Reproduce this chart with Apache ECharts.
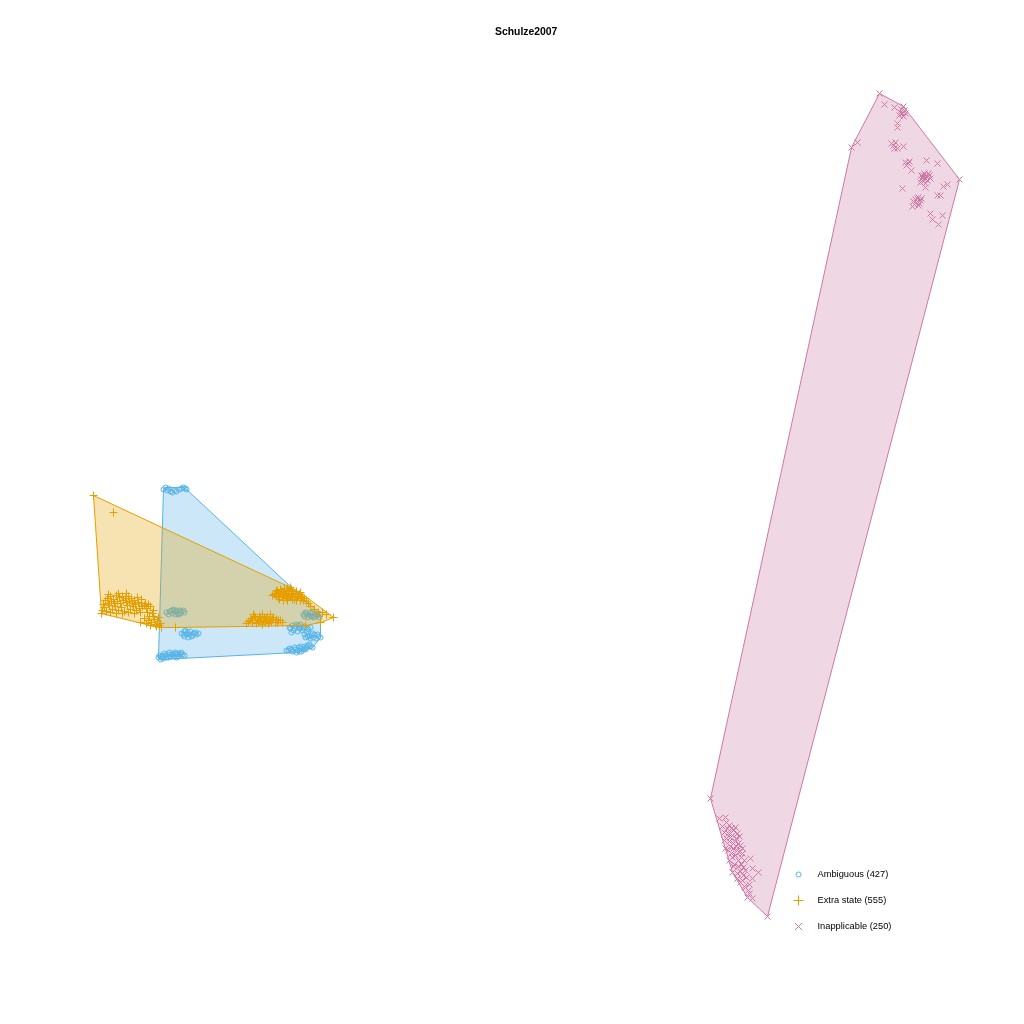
<!DOCTYPE html>
<html>
<head>
<meta charset="utf-8">
<script src="https://cdn.jsdelivr.net/npm/echarts@6/dist/echarts.min.js"></script>
<style>html,body{margin:0;padding:0;background:#fff}#c{width:1024px;height:1024px}</style>
</head>
<body>
<div id="c"></div>
<script>
// ---- data (plot coordinates; y grows downward) ----
const titleText = 'Schulze2007';
const seriesNames = ['Ambiguous (427)', 'Extra state (555)', 'Inapplicable (250)'];
const seriesColors = ['#56B4E9', '#E69F00', '#CC79A7'];

const ambiguousPoints = [
  [163,489],[165,487],[167,490],[168,488],[170,491],[172,492],[174,490],[176,491],[179,489],[181,488],[183,487],[185,488],[186,489],
  [166,612],[168,614],[169,611],[172,613],[173,609],[174,611],[176,610],[177,612],[179,610],[180,613],[181,611],[183,610],[184,612],[175,614],[178,614],[171,610],
  [181,633],[183,634],[184,631],[185,630],[187,632],[189,634],[190,631],[192,635],[193,633],[195,632],[196,634],[198,633],[184,636],[188,637],[191,636],[186,634],
  [158,657],[159,655],[160,659],[161,657],[162,655],[164,653],[165,655],[167,654],[168,657],[169,652],[171,654],[172,653],[173,655],[175,652],
  [176,653],[177,654],[178,656],[179,653],[180,654],[181,652],[182,654],[163,658],[166,657],[170,656],[174,656],[176,657],[184,655],
  [303,614],[304,616],[305,612],[306,613],[308,614],[309,615],[310,612],[311,616],[312,613],[314,616],[315,614],[317,615],[318,613],[320,614],[307,617],[313,617],[319,617],
  [289,627],[290,628],[292,625],[294,628],[295,626],[296,624],[298,625],[299,628],[300,624],[301,627],[303,628],[304,626],[307,628],[308,629],[310,627],
  [291,632],[293,630],[297,631],[302,630],[306,631],
  [304,634],[305,637],[307,636],[309,636],[311,635],[312,633],[313,637],[314,634],[317,634],[318,636],[310,638],[316,638],[320,637],
  [286,650],[288,650],[289,648],[291,649],[292,651],[294,647],[295,649],[297,650],[298,647],[299,651],[300,646],[301,648],[303,649],
  [304,646],[306,647],[307,645],[309,644],[310,646],[296,652],[301,651],[305,649],[312,647]
];

const extraStatePoints = [
  [93,495],[113,512],
  [107,598],[110,596],[113,599],[116,595],[119,597],[122,596],[125,598],[128,596],[131,598],[134,600],[137,597],[141,599],[145,603],
  [105,600],[108,603],[111,601],[114,603],[117,601],[120,603],[123,600],[126,602],[129,601],[132,603],[135,604],[138,602],[141,603],
  [144,605],[148,604],[103,604],[108,594],[118,593],[126,593],
  [101,613],[102,610],[104,607],[106,611],[109,605],[112,609],[115,606],[118,610],[121,607],[124,611],[127,605],[130,609],
  [133,606],[136,610],[139,608],[142,606],[146,608],[150,606],[153,610],[147,612],
  [110,612],[116,613],[122,613],[128,612],[134,613],[140,612],
  [140,622],[144,618],[148,620],[151,622],[154,619],[157,621],[160,623],[150,625],[156,626],[161,627],[146,623],[153,616],
  [149,616],[152,613],[158,617],[155,624],[159,625],
  [175,627],
  [274,594],[277,591],[280,589],[283,592],[286,590],[289,593],[292,591],[295,594],[298,596],[301,598],[278,597],[282,596],
  [286,598],[290,597],[294,599],[287,588],[303,600],
  [272,595],[275,593],[276,596],[279,594],[281,591],[284,594],[285,596],[288,591],[288,595],[291,589],[291,596],[293,593],
  [296,591],[297,597],[299,594],[300,592],[302,596],[304,598],[279,599],[283,600],[287,600],[292,599],[296,600],[300,600],
  [284,588],[290,587],[280,592],[276,590],[306,601],[308,603],
  [248,621],[251,618],[254,616],[257,619],[260,617],[263,620],[266,618],[269,621],[272,619],[275,622],[278,620],[256,623],
  [262,624],[268,623],
  [250,620],[252,622],[255,617],[258,622],[259,616],[261,621],[264,617],[265,622],[267,616],[270,618],[271,622],[273,617],
  [276,619],[277,622],[280,620],[253,614],[262,614],[270,614],[246,623],[282,622],
  [310,606],[314,609],[318,612],[322,612],[326,614],[333,617],[320,622],[305,625]
];

const inapplicablePoints = [
  [879,93],[884,104],[894,107],[903,106],[902,113],[899,115],[905,113],[901,109],[904,110],[903,116],[900,112],
  [897,123],[897,127],[851,147],[857,142],
  [891,143],[893,145],[895,142],[894,148],[897,148],[903,146],[905,162],[908,163],[906,165],[909,161],[911,170],
  [926,160],[937,163],[922,177],[925,178],[921,175],[924,173],[926,176],[927,180],[923,181],[929,175],[921,179],[930,178],[925,183],
  [923,175],[928,173],[920,182],[925,187],[902,188],[943,186],[947,184],[940,195],[937,195],
  [917,198],[920,200],[915,199],[918,197],[916,202],[919,203],[913,201],[921,198],[918,205],
  [914,204],[912,206],[930,213],[942,215],[932,219],[938,224],[959,179],
  [710,798],[719,818],[725,817],[727,828],[733,830],[737,833],[730,837],[724,840],[733,843],[740,845],[728,850],
  [725,848],[737,850],[742,853],[732,857],[729,860],[738,860],[743,867],[750,858],[752,868],[758,872],[732,872],
  [737,878],[740,882],[752,878],[748,890],[747,897],[752,898],[767,916],
  [722,826],[726,822],[729,825],[731,828],[735,827],[724,832],[728,833],[732,835],[736,838],[739,836],[726,838],[729,841],
  [735,841],[738,843],[742,848],[730,846],[733,848],[736,846],[739,852],[731,853],[735,855],[741,857],[744,860],[734,864],
  [738,866],[741,864],[745,870],[740,871],[743,875],[746,877],[737,873],[745,887],[744,886],[749,893],[742,880],[749,884],[733,866]
];

const groups = [ambiguousPoints, extraStatePoints, inapplicablePoints];

// ---- helpers ----
function convexHull(points) {
  const p = points.slice().sort((a, b) => a[0] - b[0] || a[1] - b[1]);
  const cross = (o, a, b) => (a[0]-o[0])*(b[1]-o[1]) - (a[1]-o[1])*(b[0]-o[0]);
  const lower = [];
  for (const q of p) { while (lower.length >= 2 && cross(lower[lower.length-2], lower[lower.length-1], q) <= 0) lower.pop(); lower.push(q); }
  const upper = [];
  for (let i = p.length - 1; i >= 0; i--) { const q = p[i]; while (upper.length >= 2 && cross(upper[upper.length-2], upper[upper.length-1], q) <= 0) upper.pop(); upper.push(q); }
  upper.pop(); lower.pop();
  return lower.concat(upper);
}
function rgba(hex, a) {
  const n = parseInt(hex.slice(1), 16);
  return 'rgba(' + (n >> 16) + ',' + ((n >> 8) & 255) + ',' + (n & 255) + ',' + a + ')';
}

const symbols = [
  'circle',
  'path://M0,5L10,5M5,0L5,10',
  'path://M0,0L10,10M10,0L0,10'
];
const symbolSizes = [5, 8, 6];
const legendIcons = [
  'path://M0,0M10,10M7.5,5A2.5,2.5,0,1,1,2.5,5A2.5,2.5,0,1,1,7.5,5Z',
  'path://M0,5L10,5M5,0L5,10',
  'path://M1.5,1.5L8.5,8.5M8.5,1.5L1.5,8.5M0,0M10,10'
];

const series = [];
groups.forEach((pts, i) => {
  const hull = convexHull(pts);
  series.push({
    type: 'custom',
    name: 'hull' + i,
    silent: true,
    clip: false,
    z: 2 * i + 1,
    data: hull,
    renderItem: function (params, api) {
      if (params.dataIndex !== 0) return null;
      return {
        type: 'polygon',
        shape: { points: hull.map(h => api.coord(h)) },
        style: { fill: rgba(seriesColors[i], 0.3), stroke: seriesColors[i], lineWidth: 1 }
      };
    }
  });
  series.push({
    type: 'scatter',
    name: seriesNames[i],
    z: 2 * i + 2,
    silent: true,
    symbol: symbols[i],
    symbolSize: symbolSizes[i],
    itemStyle: { color: 'transparent', borderColor: seriesColors[i], borderWidth: 1, opacity: 1 },
    data: pts
  });
});

const chart = echarts.init(document.getElementById('c'), null, { renderer: 'canvas' });
chart.setOption({
  animation: false,
  backgroundColor: '#ffffff',
  title: {
    text: titleText, left: 490, top: 22,
    textStyle: { fontFamily: 'Liberation Sans', fontSize: 10.4, fontWeight: 'bold', color: '#000' }
  },
  grid: { left: 0, right: 0, top: 0, bottom: 0 },
  xAxis: { type: 'value', min: -0.5, max: 1023.5, show: false },
  yAxis: { type: 'value', min: -0.5, max: 1023.5, inverse: true, show: false },
  legend: {
    orient: 'vertical', left: 788, top: 864, itemGap: 15,
    itemWidth: 10, itemHeight: 10,
    selectedMode: false,
    itemStyle: { borderWidth: 1 },
    textStyle: { fontFamily: 'Liberation Sans', fontSize: 9.3, color: '#000', padding: [0, 0, 0, 9] },
    data: seriesNames.map((n, i) => ({ name: n, icon: legendIcons[i] }))
  },
  series: series
});
</script>
</body>
</html>
